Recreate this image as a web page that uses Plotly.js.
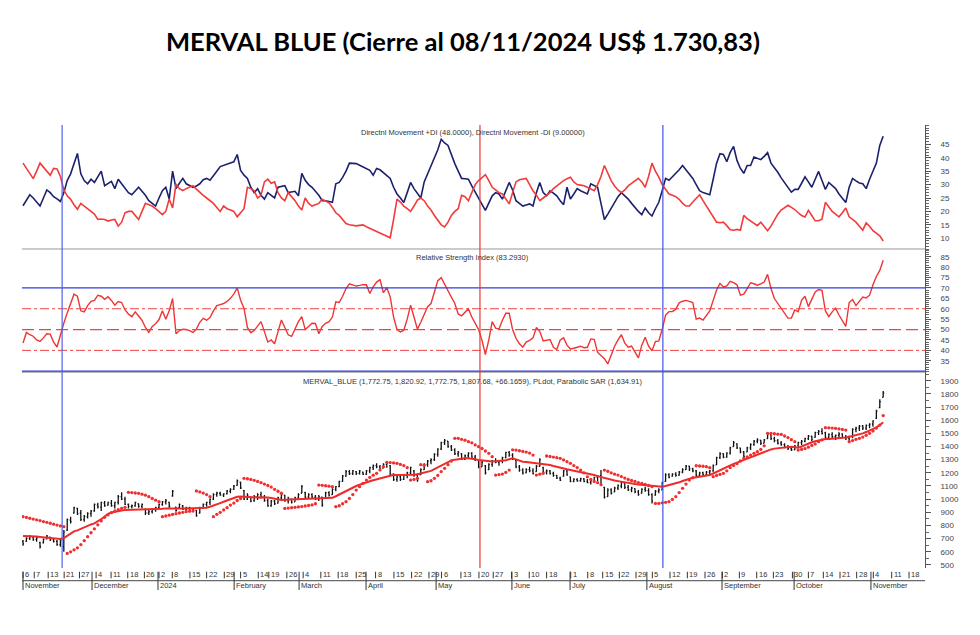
<!DOCTYPE html>
<html>
<head>
<meta charset="utf-8">
<script src="https://cdn.plot.ly/plotly-3.0.1.min.js"></script>
<style>html,body{margin:0;padding:0;background:#fff;}#chart{width:980px;height:635px;}</style>
</head>
<body>
<div id="chart"></div>
<script>
// ---- Directional Movement ----
const dmiPlus = [22.1,24,26.2,25,23.5,22,25,28,27,25.5,
24.7,23.7,27,31.5,34,38,41.6,34,31.5,30.3,
32,30.8,33,35,29.6,30.5,31.2,28.5,32,30.3,
28.5,27,26.2,27.5,29,27.5,26,24,23,22,
25,27.7,29,24.6,35,28.5,30.5,32.3,30.3,29.5,
29,29.5,30.3,31.8,32.3,31.6,33.5,35,36.7,37.2,
37.8,38.2,38.5,41.2,35.3,33.5,32.3,29,27,28.5,
26,24.6,27,26,25,29,29.2,29.6,27,27.3,
27.5,25.8,34.2,31.6,30,29,27.7,26,24,24,
23.7,23.4,30.3,30.8,32.7,35,38,38,37.8,37.2,
36.5,36,35.3,33.5,36,35.5,34.5,33.5,32.3,29,
26.5,25,23.3,27,30.8,28.5,26.5,25,31,34,
37,39.6,43,46.9,45.5,44.6,41,37.8,35,32.3,
32.2,32,29.5,27,24.8,22.6,20.4,23,25.8,27,
26.5,24.6,28,30.8,28,24,23,22,22.4,22.8,
22,27,30.8,27,25.8,27.7,26.8,25.8,24,22.5,
29,24.6,26.5,28.5,27.7,27,26.5,30.3,29.5,29,
23,17,19,21.3,23.5,25.5,27,25.8,24.6,23,
21.3,20,18.8,21.3,19.5,18.3,21,23.4,27.7,32.3,
31.6,32.8,34,35.5,37.1,35.5,34,32.3,30,27.7,
27,26.5,26.2,32,38,41.5,41.2,38.5,42,44.2,
39,36,34.2,37.1,37.1,40.3,39.8,39.3,40.5,41.9,
38,36.5,34.6,32.5,30.8,29,27.2,28.2,28.2,30.5,
32.9,31,29,32,34.9,31.5,28.2,30.8,29.5,28.5,
26.5,25,23.3,29,32.3,31.4,30.6,30.3,28.5,32,
35.3,38,44.6,48];
const dmiMinus = [38,36,34,32.2,35,38,36.5,35,33.5,36,
35.8,33,28,25.8,24.5,22.5,20.8,23,22,21,
20,19,17,17.2,17,16.4,16.8,17,14.5,16,
19.5,20,20,18.5,17,20,23,22.5,22,21,
20,18.8,20,24.6,21.3,30.2,28.5,27.8,28.5,29,
29.6,28.3,27,26,25,24,23,21.5,20,22,
21,20.5,20,18,19.5,21,29,28.5,27.7,25,
26,31,32,30.5,31,27,25,24,27,25.5,
24,22,20.5,25,23,22,22.5,23,24.5,24,
23.2,21.5,19.5,18.5,17,15.5,15,14.8,14.6,14.8,
15,14.3,13.7,13,12.3,12,11.2,10.6,10.2,17,
24.6,23.5,22,21,20,22,24.2,25,24,22,
20.5,18.5,16.5,15,14.2,16,18.5,20,21,26,
25.5,24,27,30,31.5,32.5,33.7,31.5,29,28,
27,26.5,24.5,22.8,27,31,31.8,32,32.3,30,
27.7,26,24,25,26,27,28.5,29.5,30.8,31.5,
32.2,32.7,31,30,29.8,29.6,29,28.3,27.7,30,
33,37.1,34,31.5,29.5,28,27,28,29.5,30.5,
31.5,32.3,31,29,33,38,35,32.8,30,28,
26.5,26,25.5,24.5,23,22,22,23.5,25,26.2,
24,22,20,18,16,15.8,16,14.7,13.2,13,
13.3,13,18.5,17.3,16.5,15.5,14.7,16,14.5,12.8,
14.5,16.6,19,20.5,21.5,22.3,21.5,20.7,19.5,18.5,
17.9,20.4,18.5,16.5,16.5,17.1,23.4,21.5,20,19,
18,19.5,21.3,18,17,16,14.5,13,15.7,14.5,
12.8,12,10.9,9];
// ---- RSI ----
const rsi = [43.5,48.6,47.5,46.8,45,44.3,46,48,47.8,44,
41.6,48,53,58,62.5,67,66,59,58.5,61.5,
63.5,64,66.5,66,64.5,65.8,64,61.7,63.5,63,
59.4,57.5,56.2,58.5,56.5,54.5,51,48.6,51.5,52.8,
54.8,59,55,59,64.9,48,49.5,50.2,50,49.5,
48.6,50.2,53.5,55.4,54.5,55.8,59,61.5,62,62.5,
63.5,65,67,70,64.1,60.3,51,48.5,49.5,51.5,
53.8,49,44,45,43.2,49,54.6,51,47.5,46.7,
50,53.8,56.2,50,51.5,53,52.9,48,51.5,53,
53.8,56,63.3,63,66,69.7,72,71.5,70.9,71.2,
71.6,71.5,67.3,70.5,72.8,74,67.7,70.1,65.7,56,
50,48.8,49.7,55,61.7,56,50.2,53.5,57,61,
62.5,68,73.5,74.9,71.5,68.5,65.5,62.5,57.5,56.6,
58.5,60,56,53,50,44.8,38,45,53.8,50.7,
50.3,54.5,57.8,57.8,50,45.8,43.2,41.5,44,44.8,
46,51,49,44.5,44.8,45.2,41.5,40.4,45,46,
42.5,40.7,41,41.5,42,41.3,41.5,45.5,45.3,39,
37.5,36,33.5,37.5,42,45,47.5,43.5,41.5,42,
39.5,36.4,42.5,46.3,42,39.8,44.2,44.5,50,57,
58.6,58.6,59.8,62.8,63.6,64,63.5,63,55,55.5,
54.5,56.5,59,64,69,72.2,70.5,71,73.2,72.5,
71.5,66.5,67,69.7,72.5,72,71.3,71.9,72.8,76.5,
69.7,64.9,62.5,60,57.5,55.5,55.5,59.4,58.6,64,
66,61,64.5,68.1,69.2,68.8,59,56.2,58.5,60.3,
57,54,51.5,63,64.4,61.5,63.5,65.6,65.2,66.5,
71.5,75.5,78.4,83.3];
// ---- MERVAL BLUE daily bars ----
const open = [680,680,700,712,692,670,668,698,712,690,
680,655,640,765,840,895,930,895,845,865,
890,910,955,940,970,955,970,950,975,1020,
1000,960,945,950,965,945,925,895,905,920,
935,960,980,975,1025,940,935,950,925,935,
915,915,895,935,960,975,1000,1035,1045,1030,
1040,1060,1075,1105,1130,1065,1000,1015,990,1020,
1035,1015,990,950,985,970,1010,1030,990,1000,
980,1010,1045,1050,1015,1035,1015,1000,1015,1010,
1050,1035,1075,1095,1135,1175,1210,1195,1210,1195,
1205,1190,1215,1240,1255,1245,1235,1265,1255,1190,
1150,1170,1150,1180,1200,1215,1180,1185,1225,1265,
1290,1300,1340,1380,1430,1440,1400,1375,1345,1345,
1305,1330,1350,1320,1295,1245,1255,1225,1265,1290,
1280,1290,1315,1355,1335,1295,1245,1220,1200,1225,
1215,1210,1250,1240,1205,1215,1195,1180,1160,1175,
1215,1170,1135,1150,1140,1155,1135,1125,1140,1165,
1180,1090,1020,1070,1055,1085,1100,1120,1090,1070,
1080,1055,1045,1075,1065,1035,1030,1060,1070,1135,
1185,1175,1190,1180,1205,1225,1250,1230,1215,1180,
1200,1185,1205,1215,1260,1315,1345,1320,1350,1400,
1420,1390,1360,1360,1390,1415,1440,1448,1425,1460,
1490,1460,1445,1425,1415,1395,1385,1375,1405,1430,
1440,1460,1478,1470,1505,1515,1505,1470,1490,1475,
1485,1495,1470,1460,1475,1530,1540,1555,1540,1560,
1570,1615,1695,1772.75];
const high = [689,710,727,720,715,677,702,727,715,702,
689,697,765,854,866,943,935,917,879,900,
917,968,973,981,986,981,993,981,1031,1052,
1019,968,960,981,968,968,930,917,930,943,
968,986,1001,981,1069,943,968,955,943,943,
930,917,943,968,981,1006,1044,1057,1057,1044,
1069,1082,1107,1150,1133,1069,1044,1019,1031,1044,
1057,1031,1006,993,993,1019,1044,1031,1019,1006,
1019,1044,1107,1057,1044,1044,1031,1031,1019,1057,
1060,1082,1100,1140,1183,1221,1221,1221,1214,1221,
1209,1221,1247,1264,1272,1259,1272,1285,1259,1196,
1183,1183,1188,1209,1247,1221,1196,1234,1272,1297,
1310,1348,1386,1437,1457,1442,1411,1386,1366,1348,
1340,1356,1356,1335,1297,1290,1259,1272,1297,1310,
1297,1323,1361,1366,1348,1297,1259,1234,1234,1247,
1234,1259,1310,1247,1226,1221,1209,1183,1171,1221,
1221,1171,1158,1158,1163,1158,1153,1145,1171,1183,
1221,1095,1082,1082,1095,1112,1133,1120,1107,1095,
1082,1069,1082,1095,1082,1044,1069,1082,1133,1196,
1196,1196,1204,1214,1234,1259,1254,1239,1221,1209,
1209,1214,1221,1264,1323,1356,1348,1356,1399,1442,
1424,1391,1366,1399,1424,1449,1462,1449,1457,1500,
1492,1475,1457,1442,1424,1411,1399,1411,1437,1449,
1467,1487,1482,1513,1525,1538,1513,1500,1508,1492,
1508,1500,1487,1482,1538,1551,1563,1563,1568,1576,
1600,1680,1760,1820.92];
const low = [646,677,689,684,677,626,664,694,682,671,
646,639,601,758,816,892,879,834,829,854,
866,905,930,910,943,950,943,930,960,993,
955,930,930,943,935,930,879,879,892,905,
930,950,960,935,1019,905,930,917,905,910,
905,866,892,930,943,955,993,1019,1026,1016,
1036,1044,1069,1102,1077,993,993,976,981,993,
1006,981,943,943,955,968,993,981,968,968,
981,1001,1044,1006,1006,1006,993,986,943,1006,
1020,1031,1060,1090,1133,1171,1183,1183,1183,1188,
1183,1183,1196,1221,1234,1221,1234,1239,1183,1138,
1133,1138,1145,1158,1183,1171,1133,1183,1221,1247,
1265,1290,1323,1373,1411,1391,1366,1335,1323,1297,
1297,1310,1315,1290,1234,1247,1188,1221,1247,1272,
1254,1272,1310,1323,1297,1234,1209,1188,1196,1204,
1188,1209,1247,1196,1188,1188,1171,1153,1138,1171,
1178,1128,1128,1133,1133,1128,1120,1112,1133,1138,
1107,1006,1019,1036,1052,1069,1082,1077,1062,1052,
1044,1026,1044,1057,1026,968,1026,1044,1069,1133,
1158,1171,1171,1178,1196,1221,1214,1204,1171,1171,
1178,1178,1183,1209,1259,1305,1310,1315,1340,1399,
1381,1348,1315,1356,1373,1406,1424,1411,1424,1457,
1449,1432,1416,1406,1386,1373,1366,1373,1399,1411,
1432,1449,1442,1467,1487,1492,1462,1449,1462,1449,
1467,1462,1449,1437,1462,1508,1518,1525,1525,1538,
1550,1610,1690,1772.75];
const close = [660,702,715,690,705,640,695,720,690,680,
655,690,750,845,830,935,890,845,870,890,
910,960,940,975,950,975,950,975,1020,1000,
960,945,950,975,945,960,895,905,920,935,
960,980,990,945,1060,915,960,925,935,915,
925,875,935,960,975,1000,1035,1045,1030,1040,
1062,1075,1100,1140,1085,1000,1030,985,1020,1035,
1015,990,950,985,965,1010,1035,990,1005,975,
1010,1035,1095,1015,1035,1015,1000,1020,955,1050,
1030,1075,1095,1135,1175,1210,1195,1215,1195,1215,
1190,1215,1240,1255,1245,1230,1265,1275,1190,1150,
1170,1150,1180,1200,1240,1180,1145,1225,1265,1290,
1300,1340,1380,1430,1445,1400,1375,1345,1360,1305,
1330,1350,1320,1300,1245,1280,1200,1265,1290,1280,
1290,1315,1355,1335,1305,1245,1220,1200,1225,1215,
1195,1250,1300,1205,1215,1195,1180,1160,1145,1215,
1185,1135,1150,1140,1155,1135,1125,1140,1165,1175,
1115,1015,1070,1045,1085,1105,1125,1090,1070,1085,
1055,1035,1075,1065,1035,985,1060,1070,1125,1185,
1165,1190,1180,1205,1225,1250,1230,1215,1180,1200,
1185,1205,1215,1255,1315,1345,1320,1350,1390,1430,
1390,1360,1325,1390,1415,1440,1450,1425,1450,1490,
1460,1445,1425,1415,1395,1385,1375,1405,1430,1440,
1460,1480,1455,1505,1515,1500,1470,1490,1475,1485,
1495,1470,1460,1475,1530,1540,1555,1540,1560,1570,
1595,1670,1741,1807.68];
const pldot = [720,720,719,718,716,713,710,707,704,701,
699,697,705,720,740,755,763,775,788,800,
808,816,830,848,868,888,898,905,910,914,
917,918,918,918,918,918,918,920,922,924,
926,928,930,931,932,932,931,930,930,930,
931,932,933,934,935,942,950,960,970,980,
990,1000,1010,1018,1020,1018,1015,1012,1011,1012,
1014,1015,1012,1008,1002,997,994,995,996,998,
1000,1001,1001,1001,1001,1001,1001,1002,1003,1004,
1006,1010,1022,1035,1050,1065,1078,1090,1100,1110,
1120,1128,1136,1144,1152,1158,1165,1172,1178,1183,
1183,1183,1183,1183,1183,1186,1190,1195,1200,1207,
1215,1228,1242,1255,1268,1282,1295,1300,1305,1308,
1310,1310,1308,1303,1297,1293,1289,1285,1286,1288,
1289,1290,1296,1303,1310,1302,1293,1285,1282,1279,
1275,1272,1268,1265,1262,1259,1252,1245,1237,1232,
1227,1222,1217,1212,1207,1202,1197,1192,1183,1175,
1168,1160,1152,1146,1142,1137,1132,1126,1121,1118,
1115,1112,1109,1107,1104,1101,1098,1095,1095,1100,
1106,1112,1120,1128,1138,1148,1156,1163,1167,1171,
1175,1179,1183,1195,1208,1222,1235,1247,1258,1268,
1278,1288,1297,1307,1318,1328,1340,1348,1360,1370,
1378,1384,1388,1392,1395,1398,1399,1395,1391,1400,
1412,1424,1432,1440,1447,1452,1457,1458,1459,1460,
1461,1462,1468,1474,1480,1486,1492,1500,1510,1520,
1530,1545,1562,1584];
const sar = [867,861,855,849,843,837,830,824,817,810,
803,797,791,588,600,615,630,655,685,715,
745,775,805,835,862,880,897,910,920,930,
938,1052,1050,1047,1044,1038,1030,1019,1005,992,
981,867,872,878,884,890,895,900,905,908,
910,1062,1055,1046,1035,1019,867,885,900,918,
935,955,970,990,1005,1158,1155,1150,1143,1135,
1125,1115,1104,1092,1075,1060,1045,930,932,935,
938,941,944,948,952,956,965,1107,1105,1102,
1099,1095,943,950,965,981,1005,1035,1069,1095,
1120,1145,1165,1182,1196,1222,1247,1280,1278,1275,
1272,1264,1255,1240,1145,1150,1158,1262,1257,1133,
1140,1158,1180,1210,1234,1262,1290,1462,1462,1455,
1448,1437,1428,1412,1399,1385,1366,1348,1323,1183,
1187,1191,1203,1221,1375,1373,1368,1363,1358,1350,
1335,1183,1190,1196,1328,1324,1320,1315,1310,1298,
1285,1272,1255,1240,1221,1200,1170,1150,1135,1125,
1110,1221,1212,1200,1190,1183,1172,1160,1150,1142,
1135,1126,1120,1112,1104,1095,968,968,972,976,
981,998,1019,1050,1082,1115,1145,1163,1254,1252,
1250,1247,1239,1171,1180,1188,1196,1215,1240,1255,
1270,1290,1310,1322,1335,1348,1361,1378,1405,1500,
1500,1497,1494,1492,1480,1468,1452,1437,1373,1378,
1384,1395,1408,1420,1437,1450,1543,1542,1540,1538,
1534,1530,1525,1437,1445,1455,1462,1472,1485,1500,
1518,1540,1563,1635];
// ---- time axis (trading-day index) ----
const weekLabels = ["6","7","13","21","27","4","11","18","26","2","8","15","22","29","5","14","19","26","4","11","18","25","8","15","22","29","6","13","20","27","3","10","18","1","8","15","22","29","5","12","19","26","2","9","16","23","30","7","14","21","28","4","11","18"];
const weekIdx = [0,3.3,7.4,12.1,16.6,21.5,25.9,30.8,35.7,40,43.9,49.1,54,59.2,64,69.2,72.3,77.6,82.4,87.6,92.7,98,103.7,109.1,114.3,119.4,123.1,128.8,134.1,138.3,143.7,148.9,154,161.1,166.1,170.5,175.4,180.3,185.1,190.3,195.4,200.6,205.7,210.7,215.8,220.7,226.3,231,235.4,240.3,245.2,250.1,255.5,260.6];
const monthLabels = ["November","December","2024","February","March","April","May","June","July","August","September","October","November"];
const monthIdx = [0,20.3,39.7,62.1,81.2,100.9,121.5,143.8,160.9,183.5,205.6,226.8,249.4];
const signalIdx = [11.5,134.4,188.2];
const signalColor = ["#5261ea","#ea3b3b","#4353e6"];
const rsiLevels = [70,30];
const rsiDashLevels = [60,40];
const rsiMid = 50;

const days = close.map((_, i) => i);
const small = {family: "Liberation Sans, Arial, sans-serif", size: 7.5, color: "#333"};
const axFont = {family: "Liberation Sans, Arial, sans-serif", size: 8, color: "#444"};

const traces = [
  {x: days, y: dmiPlus, type: "scatter", mode: "lines", line: {color: "#1c216c", width: 1.6}, xaxis: "x", yaxis: "y", hoverinfo: "skip"},
  {x: days, y: dmiMinus, type: "scatter", mode: "lines", line: {color: "#f23b3b", width: 1.6}, xaxis: "x", yaxis: "y", hoverinfo: "skip"},
  {x: days, y: rsi, type: "scatter", mode: "lines", line: {color: "#ef3434", width: 1.4}, xaxis: "x", yaxis: "y2", hoverinfo: "skip"},
  {x: days, open: open, high: high, low: low, close: close, type: "ohlc", xaxis: "x", yaxis: "y3",
   increasing: {line: {color: "#111", width: 1.3}}, decreasing: {line: {color: "#111", width: 1.3}}, tickwidth: 0.3, hoverinfo: "skip"},
  {x: days, y: pldot, type: "scatter", mode: "lines", line: {color: "#ee2a2a", width: 2}, xaxis: "x", yaxis: "y3", hoverinfo: "skip"},
  {x: days, y: sar, type: "scatter", mode: "markers", marker: {color: "#f03030", size: 3.3}, xaxis: "x", yaxis: "y3", hoverinfo: "skip"}
];

const shapes = [];
weekIdx.forEach(v => shapes.push({type: "line", xref: "x", yref: "paper", x0: v, x1: v, y0: -0.0084, y1: -0.0233, line: {color: "#333", width: 1}}));
monthIdx.forEach(v => shapes.push({type: "line", xref: "x", yref: "paper", x0: v, x1: v, y0: -0.0084, y1: -0.0497, line: {color: "#333", width: 1}}));
shapes.push({type: "line", xref: "paper", yref: "paper", x0: 0, x1: 1, y0: -0.0287, y1: -0.0287, line: {color: "#444", width: 1}});
shapes.push({type: "line", xref: "paper", yref: "paper", x0: 0, x1: 1, y0: 0.7201, y1: 0.7201, line: {color: "#999", width: 1}});
shapes.push({type: "line", xref: "paper", yref: "paper", x0: 0, x1: 1, y0: 0.4424, y1: 0.4424, line: {color: "#777", width: 1}});
rsiLevels.forEach(v => shapes.push({type: "line", xref: "paper", yref: "y2", x0: 0, x1: 1, y0: v, y1: v, line: {color: "#2f3fdc", width: 1.2}}));
rsiDashLevels.forEach(v => shapes.push({type: "line", xref: "paper", yref: "y2", x0: 0, x1: 1, y0: v, y1: v, line: {color: "#ee4444", width: 1, dash: "dashdot"}}));
shapes.push({type: "line", xref: "paper", yref: "y2", x0: 0, x1: 1, y0: rsiMid, y1: rsiMid, line: {color: "#ee4444", width: 1.2, dash: "12px,5px"}});
signalIdx.forEach((v, i) => shapes.push({type: "line", xref: "x", yref: "paper", x0: v, x1: v, y0: 0, y1: 1, line: {color: signalColor[i], width: 1.2}}));

const annotations = [];
weekLabels.forEach((t, i) => annotations.push({text: t, xref: "x", yref: "paper", x: weekIdx[i], y: -0.0158, xanchor: "left", yanchor: "middle", xshift: 0, showarrow: false, font: small}));
monthLabels.forEach((t, i) => annotations.push({text: t, xref: "x", yref: "paper", x: monthIdx[i], y: -0.0406, xanchor: "left", yanchor: "middle", xshift: 0, showarrow: false, font: small}));
annotations.push({text: "Directnl Movement +DI (48.0000), Directnl Movement -DI (9.00000)", xref: "paper", yref: "paper", x: 0.4994, y: 0.984, xanchor: "center", yanchor: "middle", showarrow: false, font: small});
annotations.push({text: "Relative Strength Index (83.2930)", xref: "paper", yref: "paper", x: 0.4994, y: 0.702, xanchor: "center", yanchor: "middle", showarrow: false, font: small});
annotations.push({text: "MERVAL_BLUE (1,772.75, 1,820.92, 1,772.75, 1,807.68, +66.1659), PLdot, Parabolic SAR (1,634.91)", xref: "paper", yref: "paper", x: 0.4989, y: 0.421, xanchor: "center", yanchor: "middle", showarrow: false, font: small});

const yCommon = {side: "right", anchor: "x", showgrid: false, zeroline: false, showline: true, linecolor: "#555", linewidth: 1,
  ticks: "outside", ticklen: 5, tickcolor: "#555", tickfont: axFont, ticklabelstandoff: 8, fixedrange: true};

const layout = {
  width: 980, height: 635,
  margin: {l: 22, r: 55, t: 125, b: 67},
  paper_bgcolor: "#fff", plot_bgcolor: "#fff",
  showlegend: false,
  title: {text: "<b>MERVAL BLUE (Cierre al 08/11/2024 US$ 1.730,83)</b>", font: {family: "Lato, Open Sans, sans-serif", size: 25.5, color: "#000"},
    xref: "container", yref: "container", x: 0.4724, y: 0.934, xanchor: "center", yanchor: "middle"},
  xaxis: {range: [-0.3, 265.3], showgrid: false, zeroline: false, showticklabels: false, ticks: "", showline: false, rangeslider: {visible: false}, fixedrange: true},
  yaxis: Object.assign({}, yCommon, {domain: [0.7201, 1], range: [6, 52.2], tickmode: "array", tickvals: [10,15,20,25,30,35,40,45],
    minor: {tickmode: "linear", tick0: 0, dtick: 1, ticks: "outside", ticklen: 2.5, tickcolor: "#666"}}),
  yaxis2: Object.assign({}, yCommon, {domain: [0.4424, 0.7201], range: [29.6, 88.7], tickmode: "array", tickvals: [35,40,45,50,55,60,65,70,75,80,85],
    minor: {tickmode: "linear", tick0: 0, dtick: 1, ticks: "outside", ticklen: 2.5, tickcolor: "#666"}}),
  yaxis3: Object.assign({}, yCommon, {domain: [0, 0.4424], range: [477, 1966], tickmode: "linear", tick0: 0, dtick: 100,
    minor: {tickmode: "linear", tick0: 0, dtick: 50, ticks: "outside", ticklen: 2.5, tickcolor: "#666"}}),
  shapes: shapes,
  annotations: annotations
};

Plotly.newPlot("chart", traces, layout, {displayModeBar: false, staticPlot: true});
</script>
</body>
</html>
